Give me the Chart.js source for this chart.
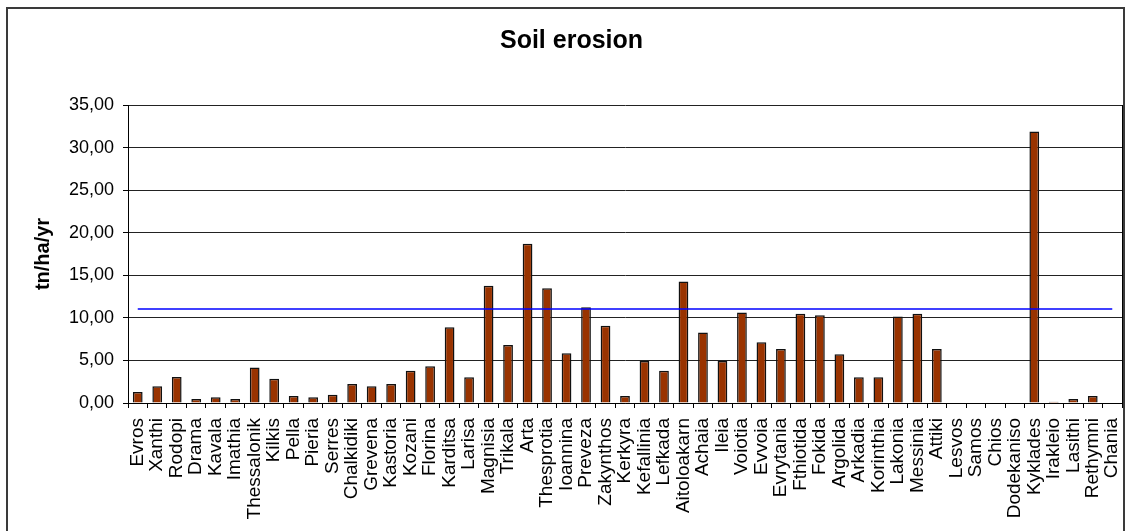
<!DOCTYPE html>
<html>
<head>
<meta charset="utf-8">
<title>Soil erosion</title>
<script src="https://cdn.jsdelivr.net/npm/chart.js@4.4.1/dist/chart.umd.min.js"></script>
<style>
  html, body { margin: 0; padding: 0; background: #ffffff; }
  #wrap { width: 1125px; height: 531px; position: relative; }
</style>
</head>
<body>
<div id="wrap"><canvas id="chart" width="1125" height="531"></canvas></div>
<script>
// Prefectures, in the order they appear along the axis
const prefectures = [
  'Evros', 'Xanthi', 'Rodopi', 'Drama', 'Kavala', 'Imathia', 'Thessalonik', 'Kilkis',
  'Pella', 'Pieria', 'Serres', 'Chalkidiki', 'Grevena', 'Kastoria', 'Kozani', 'Florina',
  'Karditsa', 'Larisa', 'Magnisia', 'Trikala', 'Arta', 'Thesprotia', 'Ioannina', 'Preveza',
  'Zakynthos', 'Kerkyra', 'Kefallinia', 'Lefkada', 'Aitoloakarn', 'Achaia', 'Ileia', 'Voiotia',
  'Evvoia', 'Evrytania', 'Fthiotida', 'Fokida', 'Argolida', 'Arkadia', 'Korinthia', 'Lakonia',
  'Messinia', 'Attiki', 'Lesvos', 'Samos', 'Chios', 'Dodekaniso', 'Kyklades', 'Irakleio',
  'Lasithi', 'Rethymni', 'Chania'
];

// Soil erosion per prefecture, tn/ha/yr
const erosion = [
  1.29, 1.96, 3.06, 0.47, 0.67, 0.47, 4.16, 2.86,
  0.82, 0.67, 0.98, 2.24, 1.96, 2.24, 3.80, 4.31,
  8.90, 3.02, 13.76, 6.82, 18.71, 13.49, 5.84, 11.25,
  9.06, 0.82, 4.94, 3.80, 14.27, 8.27, 4.94, 10.63,
  7.14, 6.35, 10.47, 10.31, 5.73, 3.02, 3.02, 10.16,
  10.47, 6.35, 0, 0, 0, 0, 31.88, 0.16,
  0.47, 0.82, 0
];

// Reference level drawn as a horizontal line across all prefectures
const referenceLevel = 11.05;

// Value axis range and step
const yMin = 0;
const yMax = 35;
const yStep = 5;

const FONT = "'Liberation Sans', Arial, sans-serif";

// Outer frame of the chart and the right edge of the plot area
const framePlugin = {
  id: 'frame',
  beforeDraw(chart) {
    const ctx = chart.ctx;
    ctx.save();
    ctx.fillStyle = '#ffffff';
    ctx.fillRect(0, 0, chart.width, chart.height);
    ctx.strokeStyle = '#3a3a3a';
    ctx.lineWidth = 2;
    ctx.strokeRect(7, 8, chart.width - 8, chart.height + 40);
    ctx.restore();
  },
  afterDatasetsDraw(chart) {
    const { ctx, chartArea } = chart;
    ctx.save();
    ctx.strokeStyle = '#000000';
    ctx.lineWidth = 1;
    ctx.beginPath();
    const x = Math.round(chartArea.right) + 0.5;
    ctx.moveTo(x, chartArea.top);
    ctx.lineTo(x, chartArea.bottom);
    ctx.stroke();
    ctx.restore();
  }
};

new Chart(document.getElementById('chart'), {
  data: {
    labels: prefectures,
    datasets: [
      {
        type: 'line',
        label: 'Reference level',
        data: [
          { x: prefectures[0], y: referenceLevel },
          { x: prefectures[prefectures.length - 1], y: referenceLevel }
        ],
        borderColor: '#0000ff',
        borderWidth: 1.5,
        pointRadius: 0,
        fill: false,
        order: 0
      },
      {
        type: 'bar',
        label: 'Soil erosion',
        data: erosion,
        backgroundColor: '#993300',
        borderColor: '#111111',
        borderWidth: 1.5,
        barPercentage: 0.5,
        categoryPercentage: 1,
        order: 1
      }
    ]
  },
  options: {
    responsive: false,
    devicePixelRatio: 1,
    animation: false,
    layout: { padding: { left: 21, right: 3, top: 0, bottom: 0 } },
    plugins: {
      legend: { display: false },
      tooltip: { enabled: false },
      title: {
        display: true,
        text: 'Soil erosion',
        color: '#000000',
        font: { family: FONT, size: 25, weight: 'bold', lineHeight: 1.2 },
        padding: { top: 26, bottom: 49 }
      }
    },
    scales: {
      x: {
        type: 'category',
        offset: true,
        grid: {
          offset: true,
          drawOnChartArea: false,
          drawTicks: true,
          tickLength: 5,
          tickColor: '#000000',
          color: '#000000'
        },
        border: { display: true, color: '#000000', width: 1 },
        ticks: {
          autoSkip: false,
          maxRotation: 90,
          minRotation: 90,
          padding: 10,
          color: '#000000',
          font: { family: FONT, size: 19 }
        },
        afterFit(scale) {
          scale.height = 128;
          scale.paddingLeft = 0;
          scale.paddingRight = 0;
        }
      },
      y: {
        min: yMin,
        max: yMax,
        grid: {
          color: '#222222',
          lineWidth: 1,
          drawTicks: true,
          tickLength: 5,
          tickColor: '#000000'
        },
        border: { display: true, color: '#000000', width: 1 },
        ticks: {
          stepSize: yStep,
          padding: 9,
          color: '#000000',
          font: { family: FONT, size: 18 },
          callback: (v) => Number(v).toFixed(2).replace('.', ',')
        },
        title: {
          display: true,
          text: 'tn/ha/yr',
          color: '#000000',
          font: { family: FONT, size: 20, weight: 'bold', lineHeight: 1.2 },
          padding: { top: 10, bottom: 0 }
        },
        afterFit(scale) { scale.width = 107; }
      }
    }
  },
  plugins: [framePlugin]
});
</script>
</body>
</html>
